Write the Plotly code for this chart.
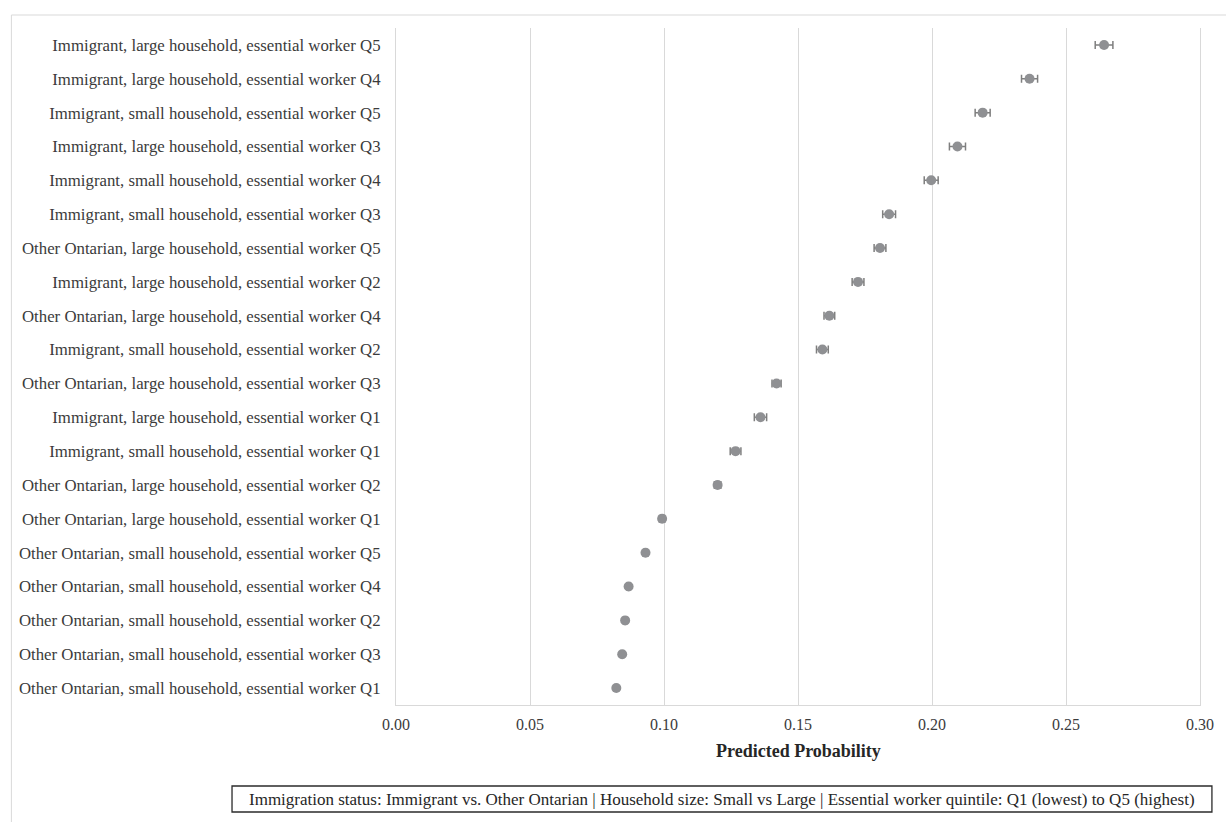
import plotly.graph_objects as go

categories = [
    "Immigrant, large household, essential worker Q5",
    "Immigrant, large household, essential worker Q4",
    "Immigrant, small household, essential worker Q5",
    "Immigrant, large household, essential worker Q3",
    "Immigrant, small household, essential worker Q4",
    "Immigrant, small household, essential worker Q3",
    "Other Ontarian, large household, essential worker Q5",
    "Immigrant, large household, essential worker Q2",
    "Other Ontarian, large household, essential worker Q4",
    "Immigrant, small household, essential worker Q2",
    "Other Ontarian, large household, essential worker Q3",
    "Immigrant, large household, essential worker Q1",
    "Immigrant, small household, essential worker Q1",
    "Other Ontarian, large household, essential worker Q2",
    "Other Ontarian, large household, essential worker Q1",
    "Other Ontarian, small household, essential worker Q5",
    "Other Ontarian, small household, essential worker Q4",
    "Other Ontarian, small household, essential worker Q2",
    "Other Ontarian, small household, essential worker Q3",
    "Other Ontarian, small household, essential worker Q1",
]
predicted = [0.2642, 0.2364, 0.2189, 0.2095, 0.1997, 0.1840, 0.1806, 0.1724,
             0.1617, 0.1591, 0.1420, 0.1360, 0.1267, 0.1200, 0.0993, 0.0931,
             0.0868, 0.0855, 0.0844, 0.0822]
ci_half = [0.0033, 0.0030, 0.0028, 0.0030, 0.0026, 0.0024, 0.0022, 0.0022,
           0.0020, 0.0022, 0.0017, 0.0023, 0.0020, 0.0012, 0.0010, 0.0008,
           0.0007, 0.0007, 0.0006, 0.0006]
x_ticks = [0.00, 0.05, 0.10, 0.15, 0.20, 0.25, 0.30]
x_title = "Predicted Probability"
note = ("Immigration status: Immigrant vs. Other Ontarian | Household size: Small vs Large | "
        "Essential worker quintile: Q1 (lowest) to Q5 (highest)")

FONT = "Liberation Serif"
TXT = "#3b3b3b"
GREY = "#8f9093"

fig = go.Figure()
fig.add_trace(go.Scatter(
    x=predicted, y=categories, mode="markers",
    marker=dict(color=GREY, size=10, line=dict(width=0)),
    error_x=dict(type="data", array=ci_half, visible=True, color="#7f7f7f",
                 thickness=1.5, width=4),
    showlegend=False, cliponaxis=False,
))

W, H = 1226, 822
L, R, T, B = 396, 1205, 28, 705
pw, ph = R - L, B - T


def px(xp):
    return (xp - L) / pw


def py(yp):
    return (B - yp) / ph


shapes = [
    # outer chart border (cropped)
    dict(type="rect", xref="paper", yref="paper", x0=px(9), x1=px(1260), y0=py(860), y1=py(15),
         line=dict(color="#d9d9d9", width=1), layer="below"),
    # note box
    dict(type="rect", xref="paper", yref="paper", x0=px(231), x1=px(1217), y0=py(812), y1=py(786),
         line=dict(color="#2b2b2b", width=1.3)),
]

annotations = [
    dict(text=f"<b>{x_title}</b>", xref="paper", yref="paper", x=0.5, y=py(751),
         showarrow=False, font=dict(family=FONT, size=18, color="#262626"),
         xanchor="center", yanchor="middle"),
    dict(text=note, xref="paper", yref="paper", x=px(724), y=py(799),
         showarrow=False, font=dict(family=FONT, size=17, color="#262626"),
         xanchor="center", yanchor="middle"),
]

fig.update_layout(
    width=W, height=H,
    margin=dict(l=L, r=W - R, t=T, b=H - B, pad=0),
    paper_bgcolor="white", plot_bgcolor="white",
    font=dict(family=FONT, size=17, color=TXT),
    shapes=shapes, annotations=annotations,
    xaxis=dict(range=[0, 0.30], tickvals=x_ticks, ticktext=[f"{v:.2f}" for v in x_ticks],
               showgrid=True, gridcolor="#d9d9d9", gridwidth=1.2, zeroline=False,
               showline=True, linecolor="#d9d9d9", linewidth=1.2, mirror=False,
               tickfont=dict(family=FONT, size=16, color=TXT), ticks="", ticklabelstandoff=5),
    yaxis=dict(categoryorder="array", categoryarray=categories, autorange=False,
               range=[19.5, -0.5], showgrid=False, zeroline=False,
               showline=True, linecolor="#d9d9d9", linewidth=1.2, mirror=True,
               tickfont=dict(family=FONT, size=16.8, color=TXT), ticks="", ticklabelstandoff=11),
)

fig.write_html(
    "out.html",
    config={"displayModeBar": False},
    post_script="document.body.style.margin='0';document.body.style.overflow='hidden';",
)
